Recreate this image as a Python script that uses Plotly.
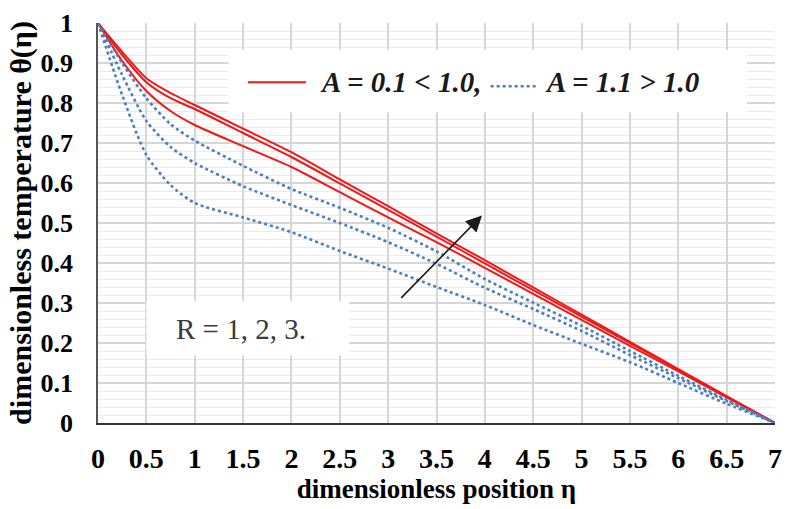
import plotly.graph_objects as go

eta = [0, 0.25, 0.5, 0.75, 1, 1.5, 2, 2.5, 3, 3.5, 4, 4.5, 5, 5.5, 6, 6.5, 7]

# A = 0.1 (solid red), R = 1, 2, 3
red_R1 = [1, 0.905, 0.83, 0.78, 0.745, 0.692, 0.64, 0.577, 0.514, 0.452, 0.388, 0.323, 0.258, 0.193, 0.129, 0.064, 0]
red_R2 = [1, 0.92, 0.852, 0.812, 0.785, 0.725, 0.665, 0.599, 0.533, 0.466, 0.399, 0.332, 0.266, 0.2, 0.133, 0.066, 0]
red_R3 = [1, 0.928, 0.862, 0.825, 0.795, 0.736, 0.677, 0.609, 0.542, 0.474, 0.407, 0.339, 0.271, 0.203, 0.135, 0.067, 0]

# A = 1.1 (dotted blue), R = 1, 2, 3
blue_R1 = [1, 0.82, 0.67, 0.595, 0.55, 0.514, 0.477, 0.43, 0.386, 0.34, 0.295, 0.245, 0.198, 0.152, 0.1, 0.048, 0]
blue_R2 = [1, 0.87, 0.755, 0.69, 0.65, 0.592, 0.545, 0.5, 0.452, 0.398, 0.338, 0.285, 0.23, 0.17, 0.112, 0.055, 0]
blue_R3 = [1, 0.9, 0.812, 0.747, 0.706, 0.643, 0.585, 0.538, 0.488, 0.429, 0.36, 0.301, 0.243, 0.18, 0.118, 0.058, 0]

x_ticks = [0, 0.5, 1, 1.5, 2, 2.5, 3, 3.5, 4, 4.5, 5, 5.5, 6, 6.5, 7]
x_ticktext = ["0", "0.5", "1", "1.5", "2", "2.5", "3", "3.5", "4", "4.5", "5", "5.5", "6", "6.5", "7"]
y_ticks = [0, 0.1, 0.2, 0.3, 0.4, 0.5, 0.6, 0.7, 0.8, 0.9, 1]
y_ticktext = ["0", "0.1", "0.2", "0.3", "0.4", "0.5", "0.6", "0.7", "0.8", "0.9", "1"]

RED = "#f01818"
BLUE = "#4a7fbf"
SERIF = "Liberation Serif, serif"

fig = go.Figure()
for ys in (red_R1, red_R2, red_R3):
    fig.add_trace(go.Scatter(x=eta, y=ys, mode="lines", line=dict(color=RED, width=2, shape="spline", smoothing=0.7),
                             showlegend=False, hoverinfo="skip"))
for ys in (blue_R1, blue_R2, blue_R3):
    fig.add_trace(go.Scatter(x=eta, y=ys, mode="lines", line=dict(color=BLUE, width=2.6, dash="dot", shape="spline", smoothing=0.7),
                             showlegend=False, hoverinfo="skip"))

# legend box and R box (white panels)
fig.add_shape(type="rect", xref="x", yref="y", x0=1.35, x1=6.71, y0=0.777, y1=0.933,
              fillcolor="white", line=dict(width=0), layer="above")
fig.add_shape(type="rect", xref="x", yref="y", x0=0.5, x1=2.6, y0=0.169, y1=0.305,
              fillcolor="white", line=dict(width=0), layer="above")
# legend samples
fig.add_shape(type="line", xref="x", yref="y", x0=1.55, x1=2.15, y0=0.852, y1=0.852,
              line=dict(color=RED, width=2), layer="above")
fig.add_shape(type="line", xref="x", yref="y", x0=4.06, x1=4.54, y0=0.842, y1=0.842,
              line=dict(color=BLUE, width=2.6, dash="dot"), layer="above")

fig.add_annotation(xref="x", yref="y", x=2.27, y=0.852, xanchor="left", yanchor="middle",
                   text="<b><i>A = 0.1 &lt; 1.0,</i></b>", showarrow=False,
                   font=dict(family=SERIF, size=29, color="#1a1a1a"))
fig.add_annotation(xref="x", yref="y", x=4.6, y=0.852, xanchor="left", yanchor="middle",
                   text="<b><i>A = 1.1 &gt; 1.0</i></b>", showarrow=False,
                   font=dict(family=SERIF, size=29, color="#1a1a1a"))
fig.add_annotation(xref="x", yref="y", x=1.48, y=0.236, xanchor="center", yanchor="middle",
                   text="R = 1, 2, 3.", showarrow=False,
                   font=dict(family=SERIF, size=29, color="#3a3a3a"))

# arrow
fig.add_annotation(xref="x", yref="y", axref="x", ayref="y", x=3.97, y=0.519, ax=3.12, ay=0.309,
                   text="", showarrow=True, arrowhead=2, arrowsize=2, arrowwidth=1.6, arrowcolor="#1a1a1a")

fig.update_layout(
    width=791, height=509,
    margin=dict(l=98, r=9, t=20, b=86),
    paper_bgcolor="white", plot_bgcolor="white",
    font=dict(family=SERIF, color="black"),
)
fig.update_xaxes(
    range=[0, 7], tickvals=x_ticks, ticktext=x_ticktext,
    showgrid=True, gridcolor="#d6d6d6", gridwidth=1.6,
    showline=True, linecolor="#333333", linewidth=1.5,
    zeroline=False, ticks="", ticklabelstandoff=10,
    tickfont=dict(family=SERIF, size=28, color="black", weight="bold"),
    title=dict(text="dimensionless position η", font=dict(family=SERIF, size=27, color="black", weight="bold"), standoff=0),
)
fig.update_yaxes(
    range=[0, 1], tickvals=y_ticks, ticktext=y_ticktext,
    showgrid=True, gridcolor="#d6d6d6", gridwidth=1.6,
    minor=dict(dtick=0.02, showgrid=True, gridcolor="#ebebeb", gridwidth=1),
    showline=True, linecolor="#555555", linewidth=1.5,
    zeroline=False, ticks="", ticklabelstandoff=18,
    tickfont=dict(family=SERIF, size=26, color="black", weight="bold"),
    title=dict(text="dimensionless temperature θ(η)", font=dict(family=SERIF, size=30, color="black", weight="bold"), standoff=0),
)

fig.write_html("out.html")
